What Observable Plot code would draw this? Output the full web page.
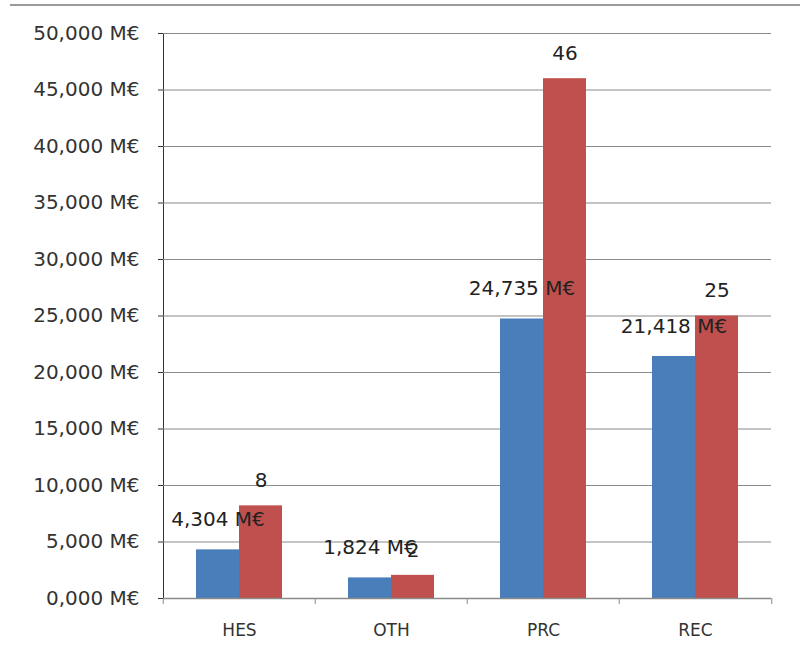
<!DOCTYPE html>
<html>
<head>
<meta charset="utf-8">
<script src="https://cdn.jsdelivr.net/npm/d3@7"></script>
<script src="https://cdn.jsdelivr.net/npm/@observablehq/plot@0.6"></script>
<style>
  html, body { margin: 0; padding: 0; background: #fff; }
  #wrap { position: relative; width: 804px; height: 663px; overflow: hidden; }
  #topline { position: absolute; left: 10px; right: 4px; top: 4px; height: 0; border-top: 2px solid #9a9a9a; }
  #chart { position: absolute; left: 0; top: 0; }
</style>
</head>
<body>
<div id="wrap"><div id="chart"></div><div id="topline"></div></div>
<script>
const categories = ["HES", "OTH", "PRC", "REC"];
const series = ["Budget", "Projects"];
const seriesColors = ["#4a7ebb", "#c0504d"];
const budgetValues = [4304, 1824, 24735, 21418];
const projectValues = [8200, 2050, 46000, 25000];
const yTicks = [0, 5000, 10000, 15000, 20000, 25000, 30000, 35000, 40000, 45000, 50000];

const data = [];
categories.forEach((c, i) => {
  data.push({cat: c, s: series[0], v: budgetValues[i]});
  data.push({cat: c, s: series[1], v: projectValues[i]});
});
const budgetData = data.filter(d => d.s === series[0]);
const projectData = data.filter(d => d.s === series[1]);

const fmtM = v => (v / 1000).toFixed(3).replace(".", ",") + " M€";
const fmtK = v => d3.format(".0f")(v / 1000);

const FONT = "DejaVu Sans";
const W = 804, H = 663;
const mL = 162, mR = 32, mT = 33, mB = 65;
const facetW = (W - mL - mR) / categories.length;

const marks = [
  Plot.ruleY(yTicks.filter(t => t > 0), {stroke: "#8a8a8a", strokeWidth: 1.2}),
  Plot.barY(data, {fx: "cat", x: "s", y: "v", fill: "s"}),
  Plot.ruleY([0], {stroke: "#8a8a8a", strokeWidth: 1.5}),
  Plot.text(budgetData, {fx: "cat", x: "s", y: "v", text: d => fmtM(d.v), dy: -30, fontSize: 20, fill: "#222"}),
  Plot.text(projectData, {fx: "cat", x: "s", y: "v", text: d => fmtK(d.v), dy: -25, fontSize: 20, fill: "#222"})
];
const hasAxisMarks = typeof Plot.axisFx === "function";
if (hasAxisMarks) {
  marks.push(
    Plot.axisFx({anchor: "bottom", tickSize: 0, tickPadding: 25, label: null, fontSize: 17, fill: "#333", style: "letter-spacing:1px"}),
    Plot.axisFx({anchor: "bottom", tickSize: 6, text: null, label: null, dx: -facetW / 2, stroke: "#8a8a8a"}),
    Plot.axisFx({anchor: "bottom", ticks: [categories[categories.length - 1]], tickSize: 6, text: null, label: null, dx: facetW / 2, stroke: "#8a8a8a"})
  );
}

const chart = Plot.plot({
  width: W,
  height: H,
  marginLeft: mL,
  marginRight: mR,
  marginTop: mT,
  marginBottom: mB,
  style: {fontFamily: FONT, fontSize: "20px", color: "#333", background: "transparent"},
  fx: {domain: categories, padding: 0, label: null, tickSize: 0, tickPadding: 25},
  x: {domain: series, axis: null, paddingInner: 0, paddingOuter: 0.75},
  y: {domain: [0, 50000], ticks: yTicks, tickFormat: fmtM, tickSize: 5, tickPadding: 19, label: null, line: true},
  color: {domain: series, range: seriesColors},
  marks
});
document.getElementById("chart").appendChild(chart);
</script>
</body>
</html>
